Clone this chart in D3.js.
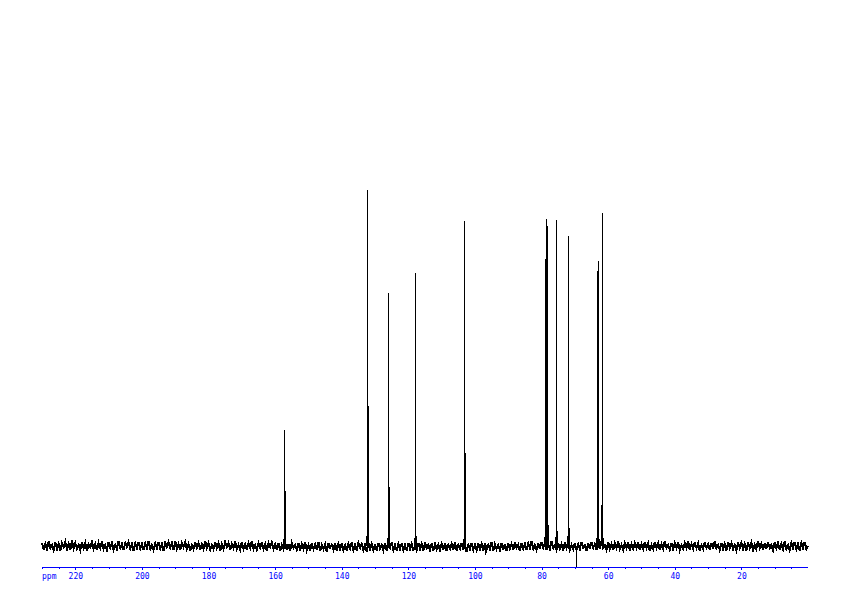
<!DOCTYPE html>
<html>
<head>
<meta charset="utf-8">
<script src="https://cdn.jsdelivr.net/npm/d3@7"></script>
<style>
  html, body { margin: 0; padding: 0; background: #ffffff; }
  svg { display: block; }
</style>
</head>
<body>
<script>
// ---------------- DATA ----------------
const majorTicks = [220, 200, 180, 160, 140, 120, 100, 80, 60, 40, 20];
const minorTicks = [230,225,220,215,210,205,200,195,190,185,180,175,170,165,160,155,150,145,140,135,130,125,120,115,110,105,100,95,90,85,80,75,70,65,60,55,50,45,40,35,30,25,20,15,10,5];
const axisUnit = "ppm";
const ppmRange = [230, 0];

// baseline noise, sampled from 230 ppm down to 0 ppm every 0.5 ppm (arbitrary intensity units)
const noiseStartPpm = 230;
const noiseStepPpm = 0.5;
const baselineNoise = [
  3,-4,2,-3,5,-2,1,-4,4,-3,2,-5,3,-1,4,-3,2,-4,6,-2,
  3,-3,1,-4,4,-2,3,-5,2,-1,4,-3,2,-4,3,-2,5,-3,1,-4,
  4,-2,3,-4,1,-3,5,-2,2,-4,3,-1,4,-3,2,-5,3,-2,4,-3,
  2,-4,3,-2,5,-3,1,-4,3,-2,4,-3,2,-5,3,-1,4,-2,3,-4,
  5,-3,2,-4,3,-1,4,-3,2,-5,1,-3,4,-2,3,-4,2,-3,5,-2,
  3,-4,1,-3,4,-2,3,-5,2,-3,4,-1,3,-4,2,-2,5,-3,1,-4,
  4,-3,2,-4,3,-2,5,-3,1,-4,3,-2,4,-3,2,-5,3,-1,4,-3,
  2,-4,3,-5,1,-3,4,-4,2,-5,3,-2,1,-4,3,-5,2,-3,4,-4,
  1,-5,3,-3,2,-4,4,-5,1,-3,2,-6,3,-2,1,-4,3,-5,2,-3,
  3,-4,1,-5,2,-3,4,-4,1,-5,3,-2,2,-4,1,-6,3,-3,2,-4,
  2,-5,3,-3,1,-4,3,-5,2,-2,4,-4,1,-5,2,-3,3,-4,1,-5,
  3,-3,2,-5,1,-4,3,-3,2,-5,4,-2,1,-4,3,-5,2,-3,1,-4,
  2,-4,3,-5,1,-3,2,-4,4,-5,1,-3,3,-4,2,-6,1,-3,3,-4,
  1,-4,3,-3,2,-5,3,-4,1,-3,4,-5,2,-3,1,-4,3,-4,2,-5,
  3,-3,2,-4,4,-2,1,-5,3,-3,2,-4,3,-2,5,-3,1,-4,3,-3,
  4,-2,3,-4,2,-3,5,-2,1,-4,3,-3,2,-5,4,-2,3,-4,1,-3,
  3,-4,2,-3,4,-2,1,-5,3,-3,4,-2,2,-4,3,-3,5,-2,1,-4,
  4,-3,2,-4,3,-2,5,-3,1,-4,3,-2,4,-5,2,-3,3,-2,4,-4,
  2,-3,4,-2,3,-5,1,-3,4,-2,3,-4,2,-3,5,-2,1,-4,3,-3,
  3,-2,4,-4,1,-3,3,-2,5,-4,2,-3,4,-2,3,-5,1,-3,4,-2,
  2,-4,3,-3,5,-2,1,-4,3,-3,2,-5,4,-2,3,-3,1,-4,4,-2,
  3,-3,2,-5,4,-2,3,-4,1,-3,5,-2,2,-4,3,-3,4,-2,1,-4,
  4,-2,3,-4,2,-3,5,-3,1,-4,3,-2,4,-3,2,-5,3,-2,4,-3,
  0
];

// spectral line columns (ppm, intensity above baseline), incl. shoulders and feet
const peakPpm = [
  157.50, 157.20, 156.90,
  132.57, 132.27, 131.97,
  126.14, 125.84, 125.54,
  118.15, 117.85, 117.55,
  103.42, 103.12, 102.82,
  96.90,
  79.09, 78.79, 78.58, 78.28, 77.98,
  75.78, 75.48, 75.18,
  72.18, 71.88, 71.58,
  69.47,
  63.47, 63.17, 62.87, 62.57, 61.96, 61.66, 61.36
];
const peakIntensity = [
  7, 116, 55,
  10, 356, 140,
  8, 253, 59,
  8, 273, 10,
  7, 325, 93,
  -9,
  9, 287, 327, 320, 21,
  9, 326, 15,
  10, 310, 18,
  -22,
  8, 275, 285, 7, 41, 333, 8
];

// ---------------- CHART ----------------
const W = 842, H = 596;
const svg = d3.select("body").append("svg")
  .attr("width", W).attr("height", H)
  .style("background", "#ffffff");

const x = d3.scaleLinear().domain(ppmRange).range([42, 808]);
const y = d3.scaleLinear().domain([0, 356]).range([546, 190]);

// baseline trace
const noisePts = baselineNoise.map((v, i) => ({ppm: noiseStartPpm - i * noiseStepPpm, v}));
const line = d3.line().x(d => x(d.ppm)).y(d => y(d.v));

svg.append("path")
  .datum(noisePts)
  .attr("d", line)
  .attr("fill", "none")
  .attr("stroke", "#000000")
  .attr("stroke-width", 2)
  .attr("stroke-linejoin", "miter")
  .attr("shape-rendering", "crispEdges");

// spectral lines
const peaks = peakPpm.map((p, i) => ({ppm: p, v: peakIntensity[i]}));
svg.append("g").selectAll("line")
  .data(peaks)
  .join("line")
  .attr("x1", d => Math.floor(x(d.ppm)) + 0.5)
  .attr("x2", d => Math.floor(x(d.ppm)) + 0.5)
  .attr("y1", y(0))
  .attr("y2", d => y(d.v))
  .attr("stroke", "#000000")
  .attr("stroke-width", 1)
  .attr("shape-rendering", "crispEdges");

// axis
const axisY = 567;
const blue = "#0000ff";

const minorAxis = d3.axisBottom(x).tickValues(minorTicks).tickSize(2).tickFormat("");
const gMinor = svg.append("g").attr("transform", `translate(0,${axisY})`).call(minorAxis);
gMinor.select(".domain").attr("stroke", blue).attr("d", `M${x(ppmRange[0])},0.5H${x(ppmRange[1])}`)
  .attr("shape-rendering", "crispEdges");
gMinor.selectAll(".tick line").attr("stroke", blue).attr("shape-rendering", "crispEdges");

const majorAxis = d3.axisBottom(x).tickValues(majorTicks).tickSize(3).tickPadding(3)
  .tickFormat(d3.format("d"));
const gMajor = svg.append("g").attr("transform", `translate(0,${axisY})`).call(majorAxis);
gMajor.select(".domain").remove();
gMajor.selectAll(".tick line").attr("stroke", blue).attr("shape-rendering", "crispEdges");
gMajor.selectAll(".tick text")
  .attr("fill", blue)
  .attr("font-family", "'DejaVu Sans Mono', monospace")
  .attr("font-size", "8px");

svg.append("text")
  .attr("x", x(ppmRange[0]))
  .attr("y", axisY + 11.5)
  .attr("fill", blue)
  .attr("font-family", "'DejaVu Sans Mono', monospace")
  .attr("font-size", "8px")
  .text(axisUnit);
</script>
</body>
</html>
